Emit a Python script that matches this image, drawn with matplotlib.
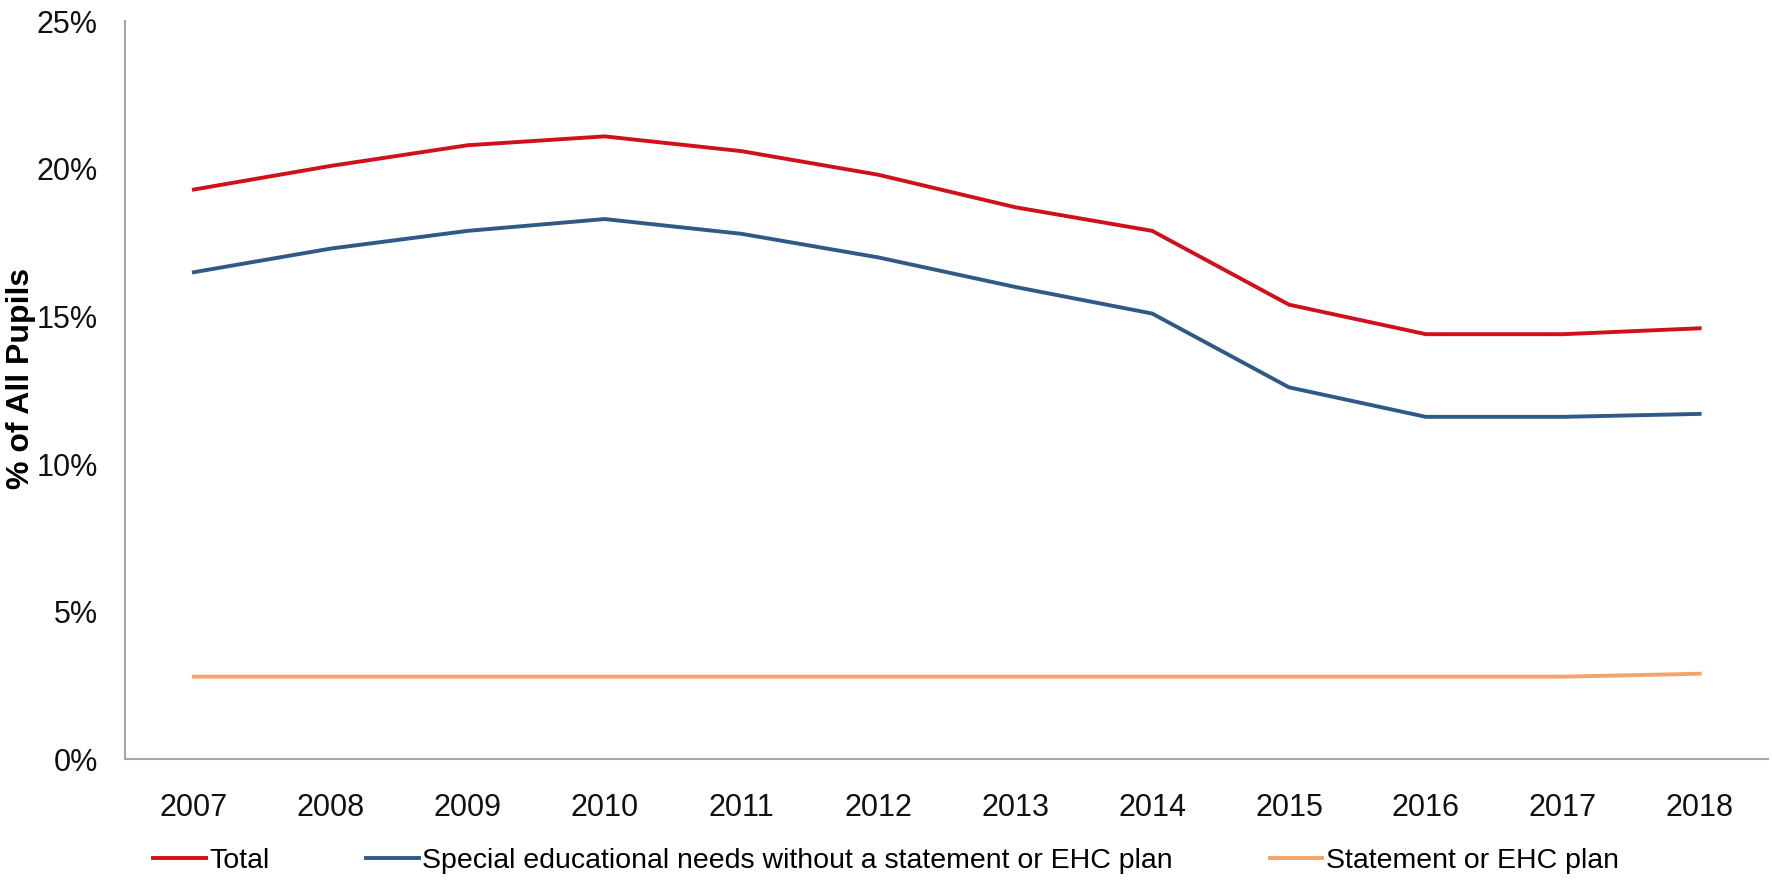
import matplotlib
matplotlib.use("Agg")
import matplotlib.pyplot as plt
from matplotlib.ticker import FuncFormatter

years = ["2007", "2008", "2009", "2010", "2011", "2012",
         "2013", "2014", "2015", "2016", "2017", "2018"]
total = [19.3, 20.1, 20.8, 21.1, 20.6, 19.8, 18.7, 17.9, 15.4, 14.4, 14.4, 14.6]
sen_support = [16.5, 17.3, 17.9, 18.3, 17.8, 17.0, 16.0, 15.1, 12.6, 11.6, 11.6, 11.7]
statement = [2.8, 2.8, 2.8, 2.8, 2.8, 2.8, 2.8, 2.8, 2.8, 2.8, 2.8, 2.9]

labels = ["Total",
          "Special educational needs without a statement or EHC plan",
          "Statement or EHC plan"]
colors = ["#D0101A", "#2F5A86", "#F4A46A"]

plt.rcParams['font.family'] = ['Liberation Sans', 'DejaVu Sans']

fig = plt.figure(figsize=(17.72, 8.85), dpi=100)
ax = fig.add_axes([0.0708, 0.142, 0.927, 0.834])

x = list(range(len(years)))
for series, lab, col in zip([total, sen_support, statement], labels, colors):
    ax.plot(x, series, color=col, lw=2.8, label=lab)

ax.set_xlim(-0.5, len(years) - 0.5)
ax.set_ylim(0, 25)
ax.set_yticks([0, 5, 10, 15, 20, 25])
ax.yaxis.set_major_formatter(FuncFormatter(lambda v, p: f"{v:.0f}%"))
ax.set_xticks(x)
ax.set_xticklabels(years)
ax.tick_params(axis="both", length=0, labelsize=22, colors="#111111")
ax.tick_params(axis="y", pad=20)
ax.tick_params(axis="x", pad=24)

for s in ["top", "right"]:
    ax.spines[s].set_visible(False)
for s in ["left", "bottom"]:
    ax.spines[s].set_color("#A6A6A6")
    ax.spines[s].set_linewidth(1.5)

fig.text(0.012, 0.572, "% of All Pupils", rotation=90, ha="center", va="center",
         fontsize=23, fontweight="bold")

fig.legend(loc="center", bbox_to_anchor=(0.5, 0.027), ncol=3, frameon=False,
           fontsize=20.5, handlelength=1.85, handletextpad=0.12, columnspacing=3.4)

fig.savefig("out.png", dpi=100)
